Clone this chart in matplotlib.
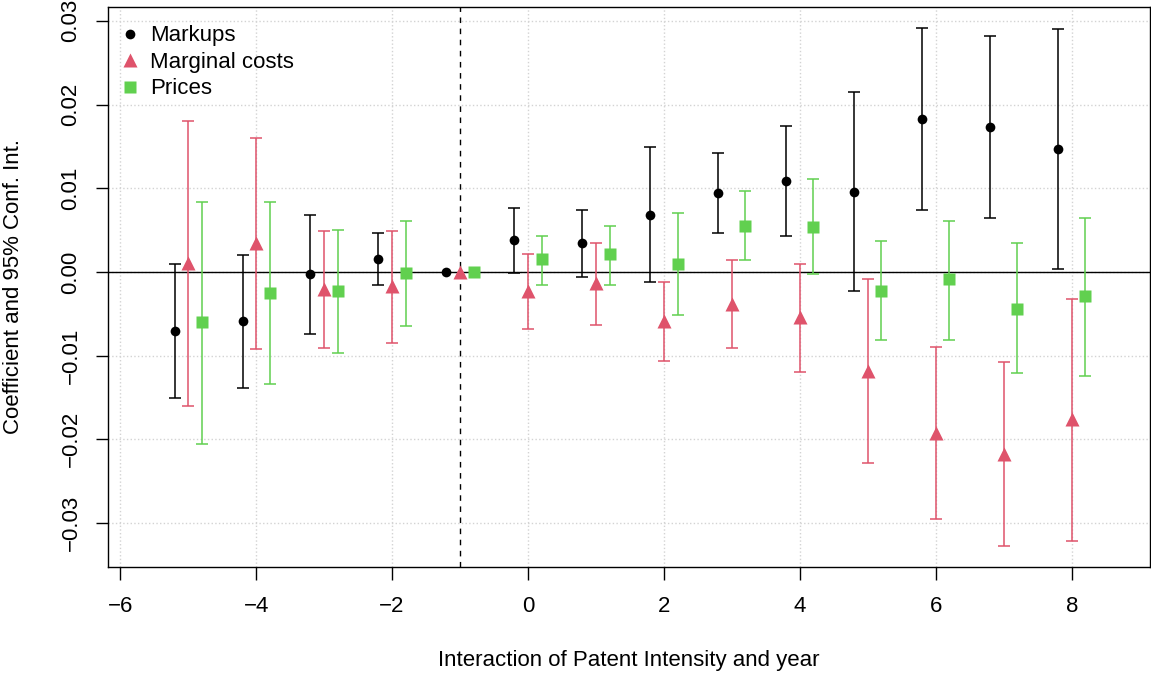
import numpy as np
import matplotlib.pyplot as plt

plt.rcParams['font.family'] = ['Liberation Sans', 'DejaVu Sans']

# relative year of the interaction term
years = np.arange(-5, 9)

mk_coef = [-0.0070, -0.0059, -0.0003, 0.0016, 0.0, 0.0038, 0.0034, 0.0068, 0.0094, 0.0109, 0.0096, 0.0183, 0.0173, 0.0147]
mk_low  = [-0.0151, -0.0139, -0.0074, -0.0015, 0.0, -0.0001, -0.0006, -0.0012, 0.0046, 0.0043, -0.0023, 0.0074, 0.0065, 0.0004]
mk_high = [0.0009, 0.0020, 0.0068, 0.0047, 0.0, 0.0076, 0.0074, 0.0149, 0.0142, 0.0174, 0.0215, 0.0292, 0.0282, 0.0290]

mc_coef = [0.0011, 0.0035, -0.0020, -0.0017, 0.0, -0.0023, -0.0013, -0.0058, -0.0038, -0.0054, -0.0118, -0.0192, -0.0217, -0.0176]
mc_low  = [-0.0160, -0.0092, -0.0091, -0.0085, 0.0, -0.0068, -0.0063, -0.0106, -0.0091, -0.0119, -0.0228, -0.0295, -0.0328, -0.0321]
mc_high = [0.0180, 0.0160, 0.0049, 0.0049, 0.0, 0.0021, 0.0035, -0.0012, 0.0014, 0.0010, -0.0009, -0.0090, -0.0107, -0.0032]

pr_coef = [-0.0060, -0.0025, -0.0023, -0.0001, 0.0, 0.0015, 0.0021, 0.0010, 0.0055, 0.0054, -0.0023, -0.0009, -0.0044, -0.0029]
pr_low  = [-0.0205, -0.0134, -0.0097, -0.0064, 0.0, -0.0015, -0.0015, -0.0051, 0.0014, -0.0003, -0.0081, -0.0081, -0.0121, -0.0124]
pr_high = [0.0084, 0.0084, 0.0050, 0.0061, 0.0, 0.0043, 0.0055, 0.0070, 0.0097, 0.0111, 0.0037, 0.0061, 0.0035, 0.0065]

xticks = [-6, -4, -2, 0, 2, 4, 6, 8]
yticks = [-0.03, -0.02, -0.01, 0.0, 0.01, 0.02, 0.03]

red = '#DF536B'
green = '#61D04F'

fig = plt.figure(figsize=(11.51, 6.77), dpi=100)
ax = fig.add_axes([0.0938, 0.1625, 0.9052, 0.8272])

ax.set_xlim(-6.18, 9.15)
ax.set_ylim(-0.03525, 0.03166)

for t in xticks:
    ax.axvline(t, color='lightgray', ls=':', lw=1, zorder=0)
for t in yticks:
    ax.axhline(t, color='lightgray', ls=':', lw=1, zorder=0)

ax.axhline(0, color='black', lw=1, zorder=1)
ax.axvline(-1, color='black', ls=(0, (4, 4)), lw=1, zorder=1)

series = [
    (years - 0.2, mk_coef, mk_low, mk_high, 'black', 'o', 7, 'Markups'),
    (years + 0.0, mc_coef, mc_low, mc_high, red, '^', 10, 'Marginal costs'),
    (years + 0.2, pr_coef, pr_low, pr_high, green, 's', 8.5, 'Prices'),
]

for xs, c, lo, hi, col, mk, ms, lab in series:
    c = np.array(c); lo = np.array(lo); hi = np.array(hi)
    has_ci = hi > lo
    ax.errorbar(xs[has_ci], c[has_ci], yerr=[c[has_ci] - lo[has_ci], hi[has_ci] - c[has_ci]],
                fmt='none', ecolor=col, elinewidth=1.1, capsize=4.5, capthick=1.1, zorder=2)
    ax.plot(xs, c, ls='none', marker=mk, color=col, ms=ms, mec='none', label=lab, zorder=3)

ax.set_xticks(xticks)
ax.set_xticklabels(['\u22126', '\u22124', '\u22122', '0', '2', '4', '6', '8'])
ax.set_yticks(yticks)
ax.set_yticklabels(['\u22120.03', '\u22120.02', '\u22120.01', '0.00', '0.01', '0.02', '0.03'],
                   rotation=90, va='center')
ax.tick_params(axis='both', direction='out', length=9, width=1, labelsize=16, colors='black')
ax.tick_params(axis='x', pad=12)
ax.tick_params(axis='y', pad=10)

for s in ax.spines.values():
    s.set_linewidth(1)
    s.set_color('black')

ax.set_xlabel('Interaction of Patent Intensity and year', fontsize=16, labelpad=24)
ax.set_ylabel('Coefficient and 95% Conf. Int.', fontsize=16, labelpad=26)

ax.legend(loc='upper left', frameon=False, fontsize=16, handletextpad=0.4,
          borderaxespad=0.3, labelspacing=0.25, handlelength=1.0,
          bbox_to_anchor=(-0.004, 0.995))

fig.savefig('out.png', dpi=100)
